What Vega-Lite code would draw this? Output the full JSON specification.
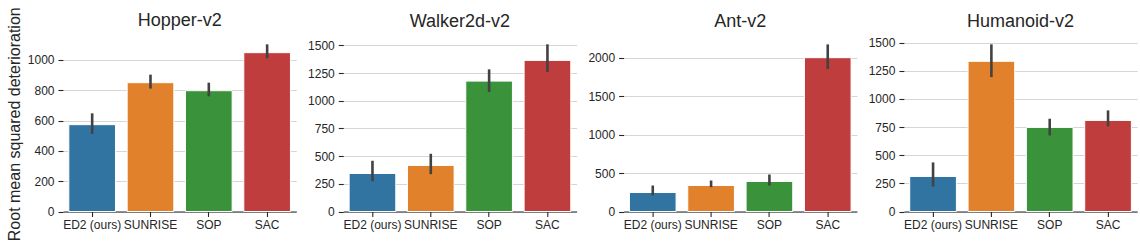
{
  "$schema": "https://vega.github.io/schema/vega-lite/v6.json",
  "padding": {"left": 6, "top": 6, "right": 0, "bottom": 0},
  "background": "white",
  "bounds": "flush",
  "spacing": 46.3,
  "data": {
    "values": [
      {"env": "Hopper-v2", "method": "ED2 (ours)", "mean": 573, "lo": 512, "hi": 648},
      {"env": "Hopper-v2", "method": "SUNRISE", "mean": 850, "lo": 811, "hi": 903},
      {"env": "Hopper-v2", "method": "SOP", "mean": 797, "lo": 760, "hi": 850},
      {"env": "Hopper-v2", "method": "SAC", "mean": 1048, "lo": 1011, "hi": 1103},
      {"env": "Walker2d-v2", "method": "ED2 (ours)", "mean": 343, "lo": 274, "hi": 458},
      {"env": "Walker2d-v2", "method": "SUNRISE", "mean": 416, "lo": 337, "hi": 521},
      {"env": "Walker2d-v2", "method": "SOP", "mean": 1177, "lo": 1078, "hi": 1283},
      {"env": "Walker2d-v2", "method": "SAC", "mean": 1364, "lo": 1259, "hi": 1509},
      {"env": "Ant-v2", "method": "ED2 (ours)", "mean": 247, "lo": 208, "hi": 338},
      {"env": "Ant-v2", "method": "SUNRISE", "mean": 338, "lo": 316, "hi": 403},
      {"env": "Ant-v2", "method": "SOP", "mean": 390, "lo": 338, "hi": 481},
      {"env": "Ant-v2", "method": "SAC", "mean": 2000, "lo": 1852, "hi": 2173},
      {"env": "Humanoid-v2", "method": "ED2 (ours)", "mean": 311, "lo": 222, "hi": 436},
      {"env": "Humanoid-v2", "method": "SUNRISE", "mean": 1334, "lo": 1194, "hi": 1485},
      {"env": "Humanoid-v2", "method": "SOP", "mean": 747, "lo": 676, "hi": 824},
      {"env": "Humanoid-v2", "method": "SAC", "mean": 809, "lo": 756, "hi": 898}
    ]
  },
  "hconcat": [
    {
      "width": 233.3, "height": 175.5,
      "title": {"text": "Hopper-v2", "offset": -23.5},
      "transform": [{"filter": "datum.env === 'Hopper-v2'"}],
      "layer": [
        {
          "mark": {"type": "bar", "stroke": "white", "strokeWidth": 1},
          "encoding": {
            "x": {"field": "method", "type": "nominal", "sort": ["ED2 (ours)", "SUNRISE", "SOP", "SAC"], "scale": {"paddingInner": 0.2, "paddingOuter": 0.1}},
            "y": {"field": "mean", "type": "quantitative", "scale": {"domain": [0, 1158], "nice": false, "zero": true}, "axis": {"values": [0, 200, 400, 600, 800, 1000], "title": "Root mean squared deterioration", "labelOverlap": false, "format": "d"}},
            "color": {"field": "method", "type": "nominal", "scale": {"domain": ["ED2 (ours)", "SUNRISE", "SOP", "SAC"], "range": ["#3274a1", "#e1812c", "#3a923a", "#c03d3e"]}, "legend": null}
          }
        },
        {
          "mark": {"type": "rule", "color": "#424242", "strokeWidth": 2.6},
          "encoding": {
            "x": {"field": "method", "type": "nominal", "sort": ["ED2 (ours)", "SUNRISE", "SOP", "SAC"]},
            "y": {"field": "lo", "type": "quantitative", "axis": {"values": [0, 200, 400, 600, 800, 1000], "title": "Root mean squared deterioration", "labelOverlap": false, "format": "d"}},
            "y2": {"field": "hi"}
          }
        }
      ]
    },
    {
      "width": 233.3, "height": 175.5,
      "title": "Walker2d-v2",
      "transform": [{"filter": "datum.env === 'Walker2d-v2'"}],
      "layer": [
        {
          "mark": {"type": "bar", "stroke": "white", "strokeWidth": 1},
          "encoding": {
            "x": {"field": "method", "type": "nominal", "sort": ["ED2 (ours)", "SUNRISE", "SOP", "SAC"], "scale": {"paddingInner": 0.2, "paddingOuter": 0.1}},
            "y": {"field": "mean", "type": "quantitative", "scale": {"domain": [0, 1584], "nice": false, "zero": true}, "axis": {"values": [0, 250, 500, 750, 1000, 1250, 1500], "title": null, "labelOverlap": false, "format": "d"}},
            "color": {"field": "method", "type": "nominal", "scale": {"domain": ["ED2 (ours)", "SUNRISE", "SOP", "SAC"], "range": ["#3274a1", "#e1812c", "#3a923a", "#c03d3e"]}, "legend": null}
          }
        },
        {
          "mark": {"type": "rule", "color": "#424242", "strokeWidth": 2.6},
          "encoding": {
            "x": {"field": "method", "type": "nominal", "sort": ["ED2 (ours)", "SUNRISE", "SOP", "SAC"]},
            "y": {"field": "lo", "type": "quantitative", "axis": {"values": [0, 250, 500, 750, 1000, 1250, 1500], "title": null, "labelOverlap": false, "format": "d"}},
            "y2": {"field": "hi"}
          }
        }
      ]
    },
    {
      "width": 233.3, "height": 175.5,
      "title": "Ant-v2",
      "transform": [{"filter": "datum.env === 'Ant-v2'"}],
      "layer": [
        {
          "mark": {"type": "bar", "stroke": "white", "strokeWidth": 1},
          "encoding": {
            "x": {"field": "method", "type": "nominal", "sort": ["ED2 (ours)", "SUNRISE", "SOP", "SAC"], "scale": {"paddingInner": 0.2, "paddingOuter": 0.1}},
            "y": {"field": "mean", "type": "quantitative", "scale": {"domain": [0, 2282], "nice": false, "zero": true}, "axis": {"values": [0, 500, 1000, 1500, 2000], "title": null, "labelOverlap": false, "format": "d"}},
            "color": {"field": "method", "type": "nominal", "scale": {"domain": ["ED2 (ours)", "SUNRISE", "SOP", "SAC"], "range": ["#3274a1", "#e1812c", "#3a923a", "#c03d3e"]}, "legend": null}
          }
        },
        {
          "mark": {"type": "rule", "color": "#424242", "strokeWidth": 2.6},
          "encoding": {
            "x": {"field": "method", "type": "nominal", "sort": ["ED2 (ours)", "SUNRISE", "SOP", "SAC"]},
            "y": {"field": "lo", "type": "quantitative", "axis": {"values": [0, 500, 1000, 1500, 2000], "title": null, "labelOverlap": false, "format": "d"}},
            "y2": {"field": "hi"}
          }
        }
      ]
    },
    {
      "width": 233.3, "height": 175.5,
      "title": "Humanoid-v2",
      "transform": [{"filter": "datum.env === 'Humanoid-v2'"}],
      "layer": [
        {
          "mark": {"type": "bar", "stroke": "white", "strokeWidth": 1},
          "encoding": {
            "x": {"field": "method", "type": "nominal", "sort": ["ED2 (ours)", "SUNRISE", "SOP", "SAC"], "scale": {"paddingInner": 0.2, "paddingOuter": 0.1}},
            "y": {"field": "mean", "type": "quantitative", "scale": {"domain": [0, 1559], "nice": false, "zero": true}, "axis": {"values": [0, 250, 500, 750, 1000, 1250, 1500], "title": null, "labelOverlap": false, "format": "d"}},
            "color": {"field": "method", "type": "nominal", "scale": {"domain": ["ED2 (ours)", "SUNRISE", "SOP", "SAC"], "range": ["#3274a1", "#e1812c", "#3a923a", "#c03d3e"]}, "legend": null}
          }
        },
        {
          "mark": {"type": "rule", "color": "#424242", "strokeWidth": 2.6},
          "encoding": {
            "x": {"field": "method", "type": "nominal", "sort": ["ED2 (ours)", "SUNRISE", "SOP", "SAC"]},
            "y": {"field": "lo", "type": "quantitative", "axis": {"values": [0, 250, 500, 750, 1000, 1250, 1500], "title": null, "labelOverlap": false, "format": "d"}},
            "y2": {"field": "hi"}
          }
        }
      ]
    }
  ],
  "resolve": {"scale": {"y": "independent", "x": "independent"}},
  "config": {
    "view": {"stroke": null},
    "font": "Liberation Sans",
    "title": {"font": "Liberation Sans", "fontSize": 18, "fontWeight": "normal", "color": "#262626", "frame": "group", "baseline": "alphabetic", "offset": 5, "anchor": "middle"},
    "axis": {
      "labelFont": "Liberation Sans", "labelFontSize": 12, "labelColor": "#262626",
      "titleFont": "Liberation Sans", "titleFontSize": 16, "titleFontWeight": "normal", "titleColor": "#262626",
      "tickColor": "#262626", "tickSize": 5, "tickWidth": 1.1, "domainColor": "#262626"
    },
    "axisX": {"labelAngle": 0, "title": null, "grid": false, "domain": true, "domainWidth": 1.2, "labelPadding": 3, "labelOverlap": false},
    "axisY": {"grid": true, "gridColor": "#d6d6d6", "gridWidth": 1, "domain": false, "labelPadding": 4, "titlePadding": 5, "labelOverlap": false, "format": "d"}
  }
}
